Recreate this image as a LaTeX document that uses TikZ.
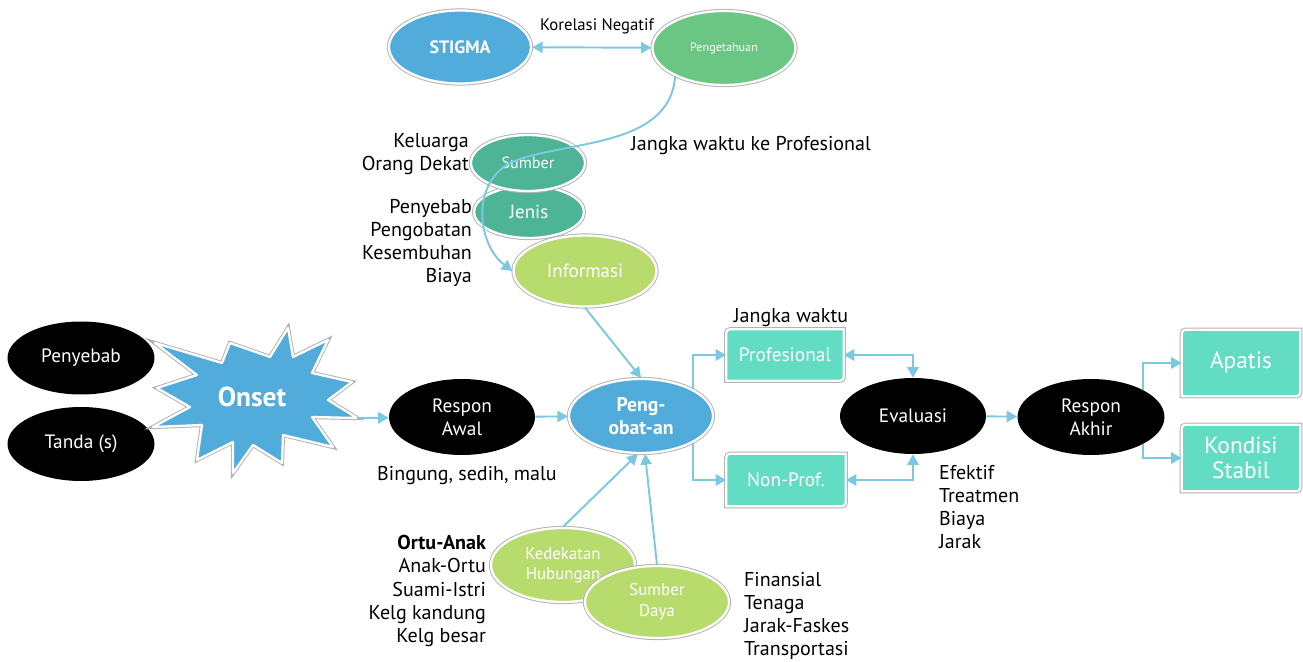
\documentclass[tikz,border=0pt]{standalone}
\usepackage{fontspec}
\setmainfont{PT Sans}
\setsansfont{PT Sans}
\usetikzlibrary{arrows.meta, shapes.geometric, calc, backgrounds}
\definecolor{skyblue}{HTML}{52ACDB}
\definecolor{leafgreen}{HTML}{6CC683}
\definecolor{seagreen}{HTML}{4DB596}
\definecolor{limegreen}{HTML}{B8DB6E}
\definecolor{aqua}{HTML}{62DCC2}
\definecolor{linkcolor}{HTML}{7CC8E0}

% box with two rounded corners (top left, bottom right)
\newcommand\cornerbox[1]{%
  \path[boxfill] ($(#1.north west)+(9,0)$) -- (#1.north east) -- ($(#1.south east)+(0,-9)$)
    .. controls (#1.south east) .. ($(#1.south east)+(-9,0)$) -- (#1.south west)
    -- ($(#1.north west)+(0,9)$) .. controls (#1.north west) .. ($(#1.north west)+(9,0)$) -- cycle;}

\begin{document}
\begin{tikzpicture}[x=0.02cm, y=-0.02cm,
    every node/.style={font=\sffamily},
    ring/.style={preaction={draw=black!30, line width=2.4pt}, draw=white, line width=1.3pt, line join=round},
    blob/.style={ellipse, inner sep=0pt, align=center, text=white, font=\sffamily\fontsize{10.8}{13.3}\selectfont},
    dark/.style={blob, fill=black, font=\sffamily\fontsize{11}{13.3}\selectfont},
    lab/.style={inner sep=1pt, font=\sffamily\fontsize{11.4}{13.2}\selectfont},
    box/.style={inner sep=0pt, align=center, text=white, font=\sffamily\fontsize{11}{13}\selectfont},
    boxfill/.style={ring, fill=aqua},
    link/.style={draw=linkcolor, line width=1.1pt, -{Triangle[length=6pt, width=6.5pt]}},
    both/.style={link, {Triangle[length=6pt, width=6.5pt]}-{Triangle[length=6pt, width=6.5pt]}},
]
\useasboundingbox (0,0) rectangle (1303,662);

% ---------------- stigma and knowledge
\node[blob, ring, fill=skyblue, minimum width=2.84cm, minimum height=1.46cm,
      font=\sffamily\bfseries\fontsize{10.2}{12}\selectfont] (stigma) at (460,47) {STIGMA};
\node[blob, ring, fill=leafgreen, minimum width=2.86cm, minimum height=1.48cm,
      font=\sffamily\fontsize{6.9}{8}\selectfont] (tahu) at (724,48) {Pengetahuan};
\draw[both] (stigma) -- (tahu);
\node[lab, font=\sffamily\fontsize{9.5}{11}\selectfont] (korelasi) at (597,26) {Korelasi Negatif};

% ---------------- information sources
\node[blob, ring, fill=seagreen, minimum width=2.2cm, minimum height=1.04cm] (jenis) at (529,212) {Jenis};
\node[blob, ring, fill=seagreen, minimum width=2.28cm, minimum height=1.12cm,
      font=\sffamily\fontsize{9.2}{10}\selectfont] (sumber) at (528,163) {Sumber};
\node[blob, ring, fill=limegreen, minimum width=2.86cm, minimum height=1.42cm] (info) at (585,271) {Informasi};
\draw[link] (tahu.210) .. controls (670,150) and (560,140) .. (510,163)
    .. controls (470,185) and (478,245) .. (info.west);
\node[lab, anchor=east, align=right] (sumberlist) at (471,154) {Keluarga\\Orang Dekat};
\node[lab, anchor=east, align=right] (jenislist) at (474,243) {Penyebab\\Pengobatan\\Kesembuhan\\Biaya};
\node[lab, anchor=west] (jangka) at (629,146) {Jangka waktu ke Profesional};

% ---------------- onset
\node[dark, minimum width=2.94cm, minimum height=1.46cm] (penyebab) at (81,358) {Penyebab};
\node[dark, minimum width=2.94cm, minimum height=1.48cm] (tanda) at (81,444) {Tanda (s)};
\draw[ring, fill=skyblue] (155,343) -- (197,375) -- (157,388) -- (190,407) -- (153,427)
    -- (202,425) -- (197,460) -- (233,442) -- (233,473) -- (253,445) -- (282,463)
    -- (283,435) -- (333,447) -- (312,417) -- (357,418) -- (328,400) -- (352,382)
    -- (312,373) -- (328,340) -- (293,357) -- (288,328) -- (270,357) -- (230,343)
    -- (222,363) -- cycle;
\node[text=white, font=\sffamily\bfseries\fontsize{15.6}{17}\selectfont] (onset) at (252,397) {Onset};
\coordinate (onsettip) at (357,418);

% ---------------- first response and treatment
\node[dark, minimum width=2.92cm, minimum height=1.52cm] (awal) at (462,417) {Respon\\Awal};
\node[lab] (bingung) at (467,476) {Bingung, sedih, malu};
\node[blob, ring, fill=skyblue, minimum width=2.88cm, minimum height=1.48cm,
      font=\sffamily\bfseries\fontsize{11.2}{13}\selectfont] (obat) at (641,416) {Peng-\\obat-an};
\draw[link] (onsettip) -- (awal);
\draw[link] (awal) -- (obat);
\draw[link] (info.south) -- (obat.north);

% ---------------- support below
\node[blob, ring, fill=limegreen, minimum width=2.88cm, minimum height=1.48cm,
      font=\sffamily\fontsize{9.6}{11.3}\selectfont] (dekat) at (563,565) {Kedekatan\\Hubungan};
\node[blob, ring, fill=limegreen, minimum width=2.88cm, minimum height=1.44cm,
      font=\sffamily\fontsize{9.6}{12}\selectfont] (daya) at (657,602) {Sumber\\Daya};
\draw[link] (dekat.north) -- (obat.265);
\draw[link] (daya.north) -- (obat.276);
\node[lab, anchor=east, align=right] (relasi) at (488,591) {\textbf{Ortu-Anak}\\Anak-Ortu\\Suami-Istri\\Kelg kandung\\Kelg besar};
\node[lab, anchor=west, align=left] (dayalist) at (742,616) {Finansial\\Tenaga\\Jarak-Faskes\\Transportasi};

% ---------------- care paths and evaluation
\node[box, minimum width=2.34cm, minimum height=1.02cm] (prof) at (785,355) {Profesional};
\node[box, minimum width=2.38cm, minimum height=1.04cm] (nonprof) at (786,480) {Non-Prof.};
\node[lab] (waktu) at (791,318) {Jangka waktu};
\node[dark, minimum width=2.92cm, minimum height=1.52cm] (eval) at (913,416) {Evaluasi};
\node[dark, minimum width=2.94cm, minimum height=1.52cm] (akhir) at (1091,417) {Respon\\Akhir};
\node[box, minimum width=2.36cm, minimum height=1.32cm,
      font=\sffamily\fontsize{13.3}{14.5}\selectfont] (apatis) at (1241,363) {Apatis};
\node[box, minimum width=2.36cm, minimum height=1.32cm,
      font=\sffamily\fontsize{13.3}{14.5}\selectfont] (stabil) at (1241,458) {Kondisi\\Stabil};
\begin{scope}[on background layer]
\foreach \b in {prof, nonprof, apatis, stabil}{
    \cornerbox{\b}
}
\end{scope}
\draw[link] (obat.north east) |- (prof);
\draw[link] (obat.south east) |- (nonprof);
\draw[both] (prof) -| (eval);
\draw[both] (nonprof) -| (eval);
\draw[link] (eval) -- (akhir);
\draw[link] (akhir.north east) |- (apatis);
\draw[link] (akhir.south east) |- (stabil);
\node[lab, anchor=west, align=left] (evallist) at (937,507) {Efektif\\Treatmen\\Biaya\\Jarak};
\end{tikzpicture}
\end{document}
